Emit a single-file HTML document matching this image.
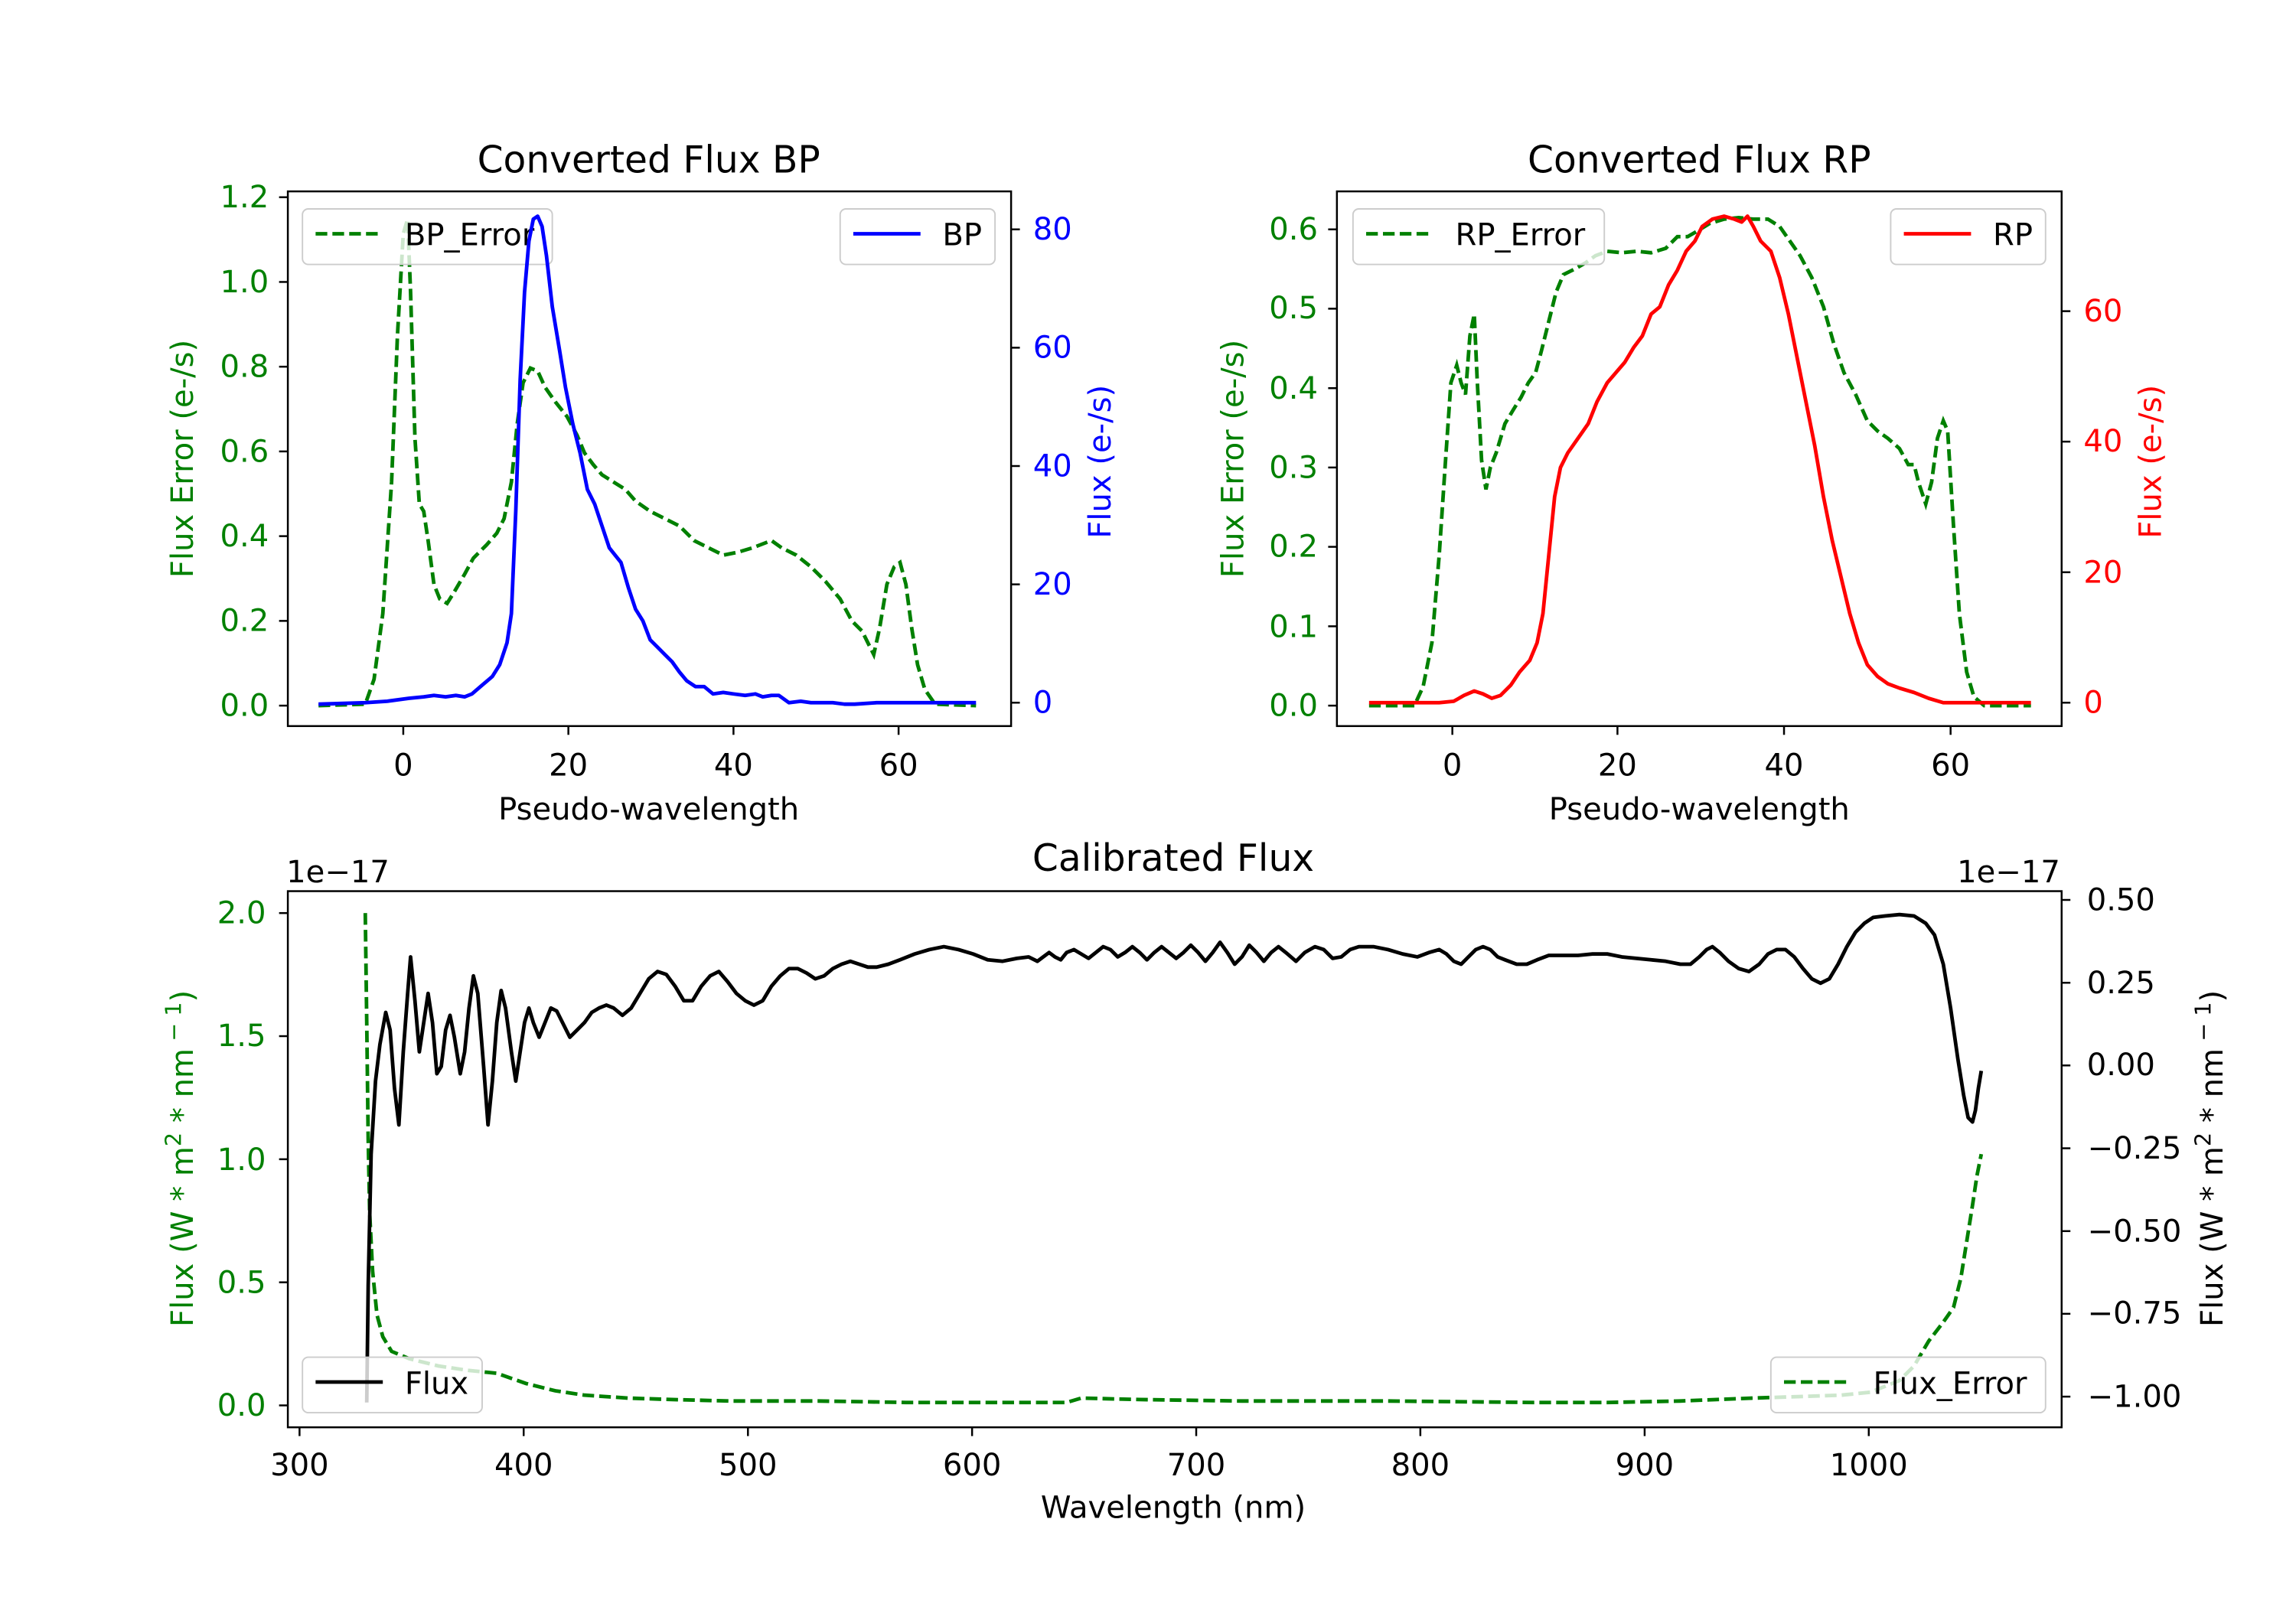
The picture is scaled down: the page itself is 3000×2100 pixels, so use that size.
<!DOCTYPE html>
<html><head><meta charset="utf-8"><style>html,body{margin:0;padding:0;background:#fff}svg{display:block}text{font-family:"DejaVu Sans","Liberation Sans",sans-serif}</style></head><body>
<svg width="3000" height="2100" viewBox="0 0 1571.4 1100" preserveAspectRatio="none" xmlns="http://www.w3.org/2000/svg">
<rect width="1571.4" height="1100" fill="#fff"/>
<g font-size="21">
<!-- BP panel -->
<polyline fill="none" stroke="green" stroke-width="2.5" stroke-dasharray="8,3.5" points="218,483 250,482 256,465 262,420 268,330 272,230 276,160 279,150 281,200 284,300 287,345 290,350 293,370 297,400 301,410 306,413 311,405 318,393 324,382 333,373 340,365 345,355 350,330 354,290 358,262 363,252 368,254 373,265 380,275 388,285 395,298 400,310 406,318 412,325 420,330 428,335 435,343 445,350 455,355 465,360 475,370 485,375 495,380 505,378 515,375 528,370 535,375 545,380 555,388 565,398 575,410 583,425 590,432 594,440 598,448 602,430 607,400 612,388 616,385 620,400 624,430 628,455 633,472 640,482 668,483"/>
<rect x="207" y="143" width="171" height="38" rx="4" fill="#fff" fill-opacity="0.8" stroke="#ccc"/>
<line x1="216" y1="160" x2="262" y2="160" stroke="green" stroke-width="2.5" stroke-dasharray="8,3.5"/>
<text x="277" y="168">BP_Error</text>
<polyline fill="none" stroke="blue" stroke-width="2.5" stroke-linejoin="round" points="218,482 250,481 265,480 280,478 290,477 297,476 305,477 312,476 318,477 323,475 330,469 337,463 342,455 347,440 350,420 353,350 356,260 359,200 362,165 365,150 368,148 371,155 374,175 378,210 383,240 387,265 392,290 397,310 402,335 407,345 412,360 417,375 421,380 425,385 430,402 435,417 440,425 445,438 450,443 455,448 460,453 465,460 470,466 476,470 482,470 488,475 495,474 502,475 510,476 517,475 522,477 528,476 533,476 540,481 548,480 555,481 562,481 570,481 578,482 585,482 600,481 620,481 668,481"/>
<rect x="575" y="143" width="106" height="38" rx="4" fill="#fff" fill-opacity="0.8" stroke="#ccc"/>
<line x1="584" y1="160" x2="630" y2="160" stroke="blue" stroke-width="2.5"/>
<text x="645" y="168">BP</text>
<rect x="197" y="131" width="495" height="366" fill="none" stroke="#000" stroke-width="1.3"/>
<g stroke="#000" stroke-width="1.3">
<line x1="276" y1="497" x2="276" y2="503"/><line x1="389" y1="497" x2="389" y2="503"/><line x1="502" y1="497" x2="502" y2="503"/><line x1="615" y1="497" x2="615" y2="503"/>
<line x1="191" y1="483" x2="197" y2="483"/><line x1="191" y1="425" x2="197" y2="425"/><line x1="191" y1="367" x2="197" y2="367"/><line x1="191" y1="309" x2="197" y2="309"/><line x1="191" y1="251" x2="197" y2="251"/><line x1="191" y1="193" x2="197" y2="193"/><line x1="191" y1="135" x2="197" y2="135"/>
<line x1="692" y1="481" x2="698" y2="481"/><line x1="692" y1="400" x2="698" y2="400"/><line x1="692" y1="319" x2="698" y2="319"/><line x1="692" y1="238" x2="698" y2="238"/><line x1="692" y1="157" x2="698" y2="157"/>
</g>
<g text-anchor="middle"><text x="276" y="531">0</text><text x="389" y="531">20</text><text x="502" y="531">40</text><text x="615" y="531">60</text>
<text x="444" y="561">Pseudo-wavelength</text><text x="444" y="118" font-size="25.5">Converted Flux BP</text></g>
<g text-anchor="end" fill="green"><text x="184" y="490">0.0</text><text x="184" y="432">0.2</text><text x="184" y="374">0.4</text><text x="184" y="316">0.6</text><text x="184" y="258">0.8</text><text x="184" y="200">1.0</text><text x="184" y="142">1.2</text></g>
<g fill="blue"><text x="707" y="488">0</text><text x="707" y="407">20</text><text x="707" y="326">40</text><text x="707" y="245">60</text><text x="707" y="164">80</text></g>
<text transform="translate(132,314) rotate(-90)" text-anchor="middle" fill="green">Flux Error (e-/s)</text>
<text transform="translate(760,316) rotate(-90)" text-anchor="middle" fill="blue">Flux (e-/s)</text>

<!-- RP panel -->
<polyline fill="none" stroke="green" stroke-width="2.5" stroke-dasharray="8,3.5" points="937,483 968,483 974,470 980,440 985,380 989,320 993,262 997,250 1000,262 1003,270 1006,230 1009,215 1011,260 1014,315 1017,335 1020,320 1024,310 1030,290 1036,280 1041,272 1046,262 1051,255 1055,240 1060,220 1065,200 1070,188 1078,184 1085,180 1092,175 1100,172 1110,173 1120,172 1130,173 1140,170 1148,162 1155,162 1162,158 1170,153 1180,150 1190,149 1200,150 1210,150 1218,155 1225,165 1232,175 1240,190 1248,210 1255,235 1262,255 1270,270 1278,288 1285,295 1292,300 1300,307 1306,318 1310,318 1313,330 1318,345 1322,330 1326,300 1330,288 1333,295 1337,360 1341,420 1346,460 1351,477 1358,483 1390,483"/>
<rect x="926" y="143" width="172" height="38" rx="4" fill="#fff" fill-opacity="0.8" stroke="#ccc"/>
<line x1="935" y1="160" x2="981" y2="160" stroke="green" stroke-width="2.5" stroke-dasharray="8,3.5"/>
<text x="996" y="168">RP_Error</text>
<polyline fill="none" stroke="red" stroke-width="2.5" stroke-linejoin="round" points="937,481 985,481 995,480 1002,476 1009,473 1015,475 1021,478 1027,476 1034,469 1040,460 1047,452 1052,440 1056,420 1060,380 1064,340 1068,320 1073,310 1080,300 1087,290 1093,275 1100,262 1106,255 1112,248 1118,238 1124,230 1130,215 1136,210 1142,195 1148,185 1154,172 1160,165 1165,155 1172,150 1180,148 1187,150 1192,152 1196,148 1200,155 1205,165 1212,172 1218,190 1224,215 1230,245 1236,275 1242,305 1248,340 1254,370 1260,395 1266,420 1272,440 1278,455 1285,463 1292,468 1300,471 1310,474 1320,478 1330,481 1345,481 1390,481"/>
<rect x="1294" y="143" width="106" height="38" rx="4" fill="#fff" fill-opacity="0.8" stroke="#ccc"/>
<line x1="1303" y1="160" x2="1349" y2="160" stroke="red" stroke-width="2.5"/>
<text x="1364" y="168">RP</text>
<rect x="915" y="131" width="496" height="366" fill="none" stroke="#000" stroke-width="1.3"/>
<g stroke="#000" stroke-width="1.3">
<line x1="994" y1="497" x2="994" y2="503"/><line x1="1107" y1="497" x2="1107" y2="503"/><line x1="1221" y1="497" x2="1221" y2="503"/><line x1="1335" y1="497" x2="1335" y2="503"/>
<line x1="909" y1="483" x2="915" y2="483"/><line x1="909" y1="428.7" x2="915" y2="428.7"/><line x1="909" y1="374.3" x2="915" y2="374.3"/><line x1="909" y1="320" x2="915" y2="320"/><line x1="909" y1="265.7" x2="915" y2="265.7"/><line x1="909" y1="211.3" x2="915" y2="211.3"/><line x1="909" y1="157" x2="915" y2="157"/>
<line x1="1411" y1="481" x2="1417" y2="481"/><line x1="1411" y1="391.7" x2="1417" y2="391.7"/><line x1="1411" y1="302.3" x2="1417" y2="302.3"/><line x1="1411" y1="213" x2="1417" y2="213"/>
</g>
<g text-anchor="middle"><text x="994" y="531">0</text><text x="1107" y="531">20</text><text x="1221" y="531">40</text><text x="1335" y="531">60</text>
<text x="1163" y="561">Pseudo-wavelength</text><text x="1163" y="118" font-size="25.5">Converted Flux RP</text></g>
<g text-anchor="end" fill="green"><text x="902" y="490">0.0</text><text x="902" y="436">0.1</text><text x="902" y="381">0.2</text><text x="902" y="327">0.3</text><text x="902" y="273">0.4</text><text x="902" y="218">0.5</text><text x="902" y="164">0.6</text></g>
<g fill="red"><text x="1426" y="488">0</text><text x="1426" y="399">20</text><text x="1426" y="309">40</text><text x="1426" y="220">60</text></g>
<text transform="translate(851,314) rotate(-90)" text-anchor="middle" fill="green">Flux Error (e-/s)</text>
<text transform="translate(1479,316) rotate(-90)" text-anchor="middle" fill="red">Flux (e-/s)</text>

<!-- Bottom panel -->
<polyline fill="none" stroke="green" stroke-width="2.5" stroke-dasharray="8,3.5" points="250,625 251,700 252,780 253,830 255,870 258,900 262,915 268,925 280,930 300,935 320,938 340,940 360,947 380,952 400,955 430,957 460,958 500,959 560,959 620,960 700,960 730,960 740,957 780,958 850,959 950,959 1050,960 1100,960 1150,959 1200,957 1260,955 1280,953 1300,945 1310,935 1320,918 1330,905 1337,895 1342,875 1346,850 1350,825 1353,805 1356,790"/>
<polyline fill="none" stroke="#000" stroke-width="2.5" stroke-linejoin="round" points="251,960 252,880 254,790 257,740 260,715 264,693 267,705 270,745 273,770 276,720 279,680 281,655 284,685 287,720 290,700 293,680 296,700 299,735 302,730 305,705 308,695 311,710 315,735 318,720 321,690 324,668 327,680 331,730 334,770 337,740 340,700 343,678 346,690 350,720 353,740 356,720 359,700 362,690 365,700 369,710 373,700 377,690 381,692 385,700 390,710 395,705 400,700 405,693 410,690 415,688 420,690 426,695 432,690 438,680 444,670 450,665 456,667 462,675 468,685 474,685 480,675 486,668 492,665 498,672 504,680 510,685 516,688 522,685 528,675 534,668 540,663 546,663 552,666 558,670 564,668 570,663 576,660 582,658 588,660 594,662 600,662 608,660 616,657 626,653 636,650 646,648 656,650 666,653 676,657 686,658 696,656 704,655 710,658 714,655 718,652 722,655 726,657 730,652 735,650 740,653 745,656 750,652 755,648 760,650 765,655 770,652 775,648 780,652 785,657 790,652 795,648 800,652 805,656 810,652 815,647 820,652 825,658 830,652 835,645 840,652 845,660 850,655 855,647 860,652 865,658 870,652 875,648 880,652 887,658 893,652 900,648 906,650 912,656 918,655 924,650 930,648 940,648 950,650 960,653 970,655 978,652 985,650 990,653 995,658 1000,660 1005,655 1010,650 1015,648 1020,650 1025,655 1030,657 1038,660 1045,660 1052,657 1060,654 1070,654 1080,654 1090,653 1100,653 1110,655 1120,656 1130,657 1140,658 1150,660 1157,660 1163,655 1168,650 1172,648 1177,652 1183,658 1190,663 1197,665 1204,660 1210,653 1216,650 1222,650 1228,655 1234,663 1240,670 1246,673 1252,670 1258,660 1264,648 1270,638 1276,632 1282,628 1290,627 1300,626 1310,627 1318,632 1324,640 1330,660 1335,690 1340,725 1344,750 1347,765 1350,768 1352,760 1354,745 1356,733"/>
<rect x="207" y="929" width="123" height="38" rx="4" fill="#fff" fill-opacity="0.8" stroke="#ccc"/>
<line x1="216" y1="946" x2="262" y2="946" stroke="#000" stroke-width="2.5"/>
<text x="277" y="954">Flux</text>
<rect x="1212" y="929" width="188" height="38" rx="4" fill="#fff" fill-opacity="0.8" stroke="#ccc"/>
<line x1="1221" y1="946" x2="1267" y2="946" stroke="green" stroke-width="2.5" stroke-dasharray="8,3.5"/>
<text x="1282" y="954">Flux_Error</text>
<rect x="197" y="610" width="1214" height="367" fill="none" stroke="#000" stroke-width="1.3"/>
<g stroke="#000" stroke-width="1.3">
<line x1="205" y1="977" x2="205" y2="983"/><line x1="358.4" y1="977" x2="358.4" y2="983"/><line x1="511.9" y1="977" x2="511.9" y2="983"/><line x1="665.3" y1="977" x2="665.3" y2="983"/><line x1="818.7" y1="977" x2="818.7" y2="983"/><line x1="972.1" y1="977" x2="972.1" y2="983"/><line x1="1125.6" y1="977" x2="1125.6" y2="983"/><line x1="1279" y1="977" x2="1279" y2="983"/>
<line x1="191" y1="962" x2="197" y2="962"/><line x1="191" y1="877.75" x2="197" y2="877.75"/><line x1="191" y1="793.5" x2="197" y2="793.5"/><line x1="191" y1="709.25" x2="197" y2="709.25"/><line x1="191" y1="625" x2="197" y2="625"/>
<line x1="1411" y1="616" x2="1417" y2="616"/><line x1="1411" y1="672.7" x2="1417" y2="672.7"/><line x1="1411" y1="729.3" x2="1417" y2="729.3"/><line x1="1411" y1="786" x2="1417" y2="786"/><line x1="1411" y1="842.7" x2="1417" y2="842.7"/><line x1="1411" y1="899.3" x2="1417" y2="899.3"/><line x1="1411" y1="956" x2="1417" y2="956"/>
</g>
<g text-anchor="middle"><text x="205" y="1010">300</text><text x="358.4" y="1010">400</text><text x="511.9" y="1010">500</text><text x="665.3" y="1010">600</text><text x="818.7" y="1010">700</text><text x="972.1" y="1010">800</text><text x="1125.6" y="1010">900</text><text x="1279" y="1010">1000</text>
<text x="803" y="1039">Wavelength (nm)</text><text x="803" y="596" font-size="25.5">Calibrated Flux</text></g>
<text x="196" y="604">1e−17</text><text x="1410" y="604" text-anchor="end">1e−17</text>
<g text-anchor="end" fill="green"><text x="182" y="969">0.0</text><text x="182" y="885">0.5</text><text x="182" y="801">1.0</text><text x="182" y="716">1.5</text><text x="182" y="632">2.0</text></g>
<g text-anchor="end"><text x="1475" y="623">0.50</text><text x="1475" y="680">0.25</text><text x="1475" y="736">0.00</text><text x="1493" y="793">−0.25</text><text x="1493" y="850">−0.50</text><text x="1493" y="906">−0.75</text><text x="1493" y="963">−1.00</text></g>
<text transform="translate(132,793) rotate(-90)" text-anchor="middle" fill="green">Flux (W * m<tspan font-size="15" dy="-8">2</tspan><tspan dy="8"> * nm</tspan><tspan font-size="15" dy="-8"> − 1</tspan><tspan dy="8">)</tspan></text>
<text transform="translate(1521,793) rotate(-90)" text-anchor="middle">Flux (W * m<tspan font-size="15" dy="-8">2</tspan><tspan dy="8"> * nm</tspan><tspan font-size="15" dy="-8"> − 1</tspan><tspan dy="8">)</tspan></text>
</g>
</svg>
</body></html>
